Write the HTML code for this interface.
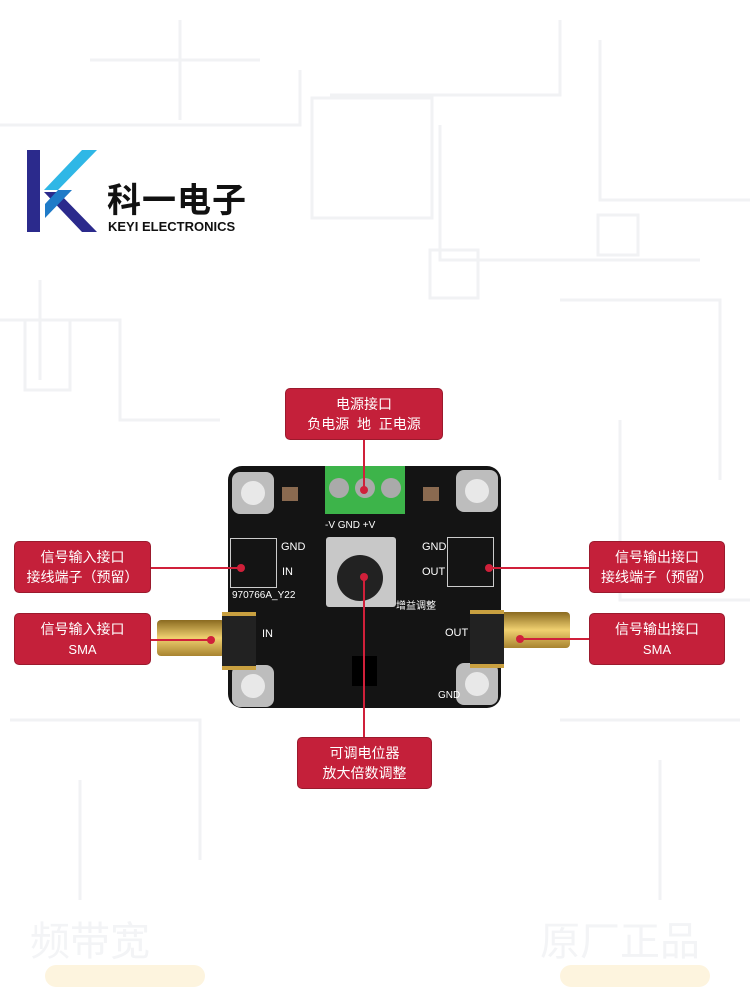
<!DOCTYPE html>
<html><head><meta charset="utf-8"><style>
body{margin:0;width:750px;height:1000px;background:#fff;position:relative;overflow:hidden;font-family:"Liberation Sans","Noto Sans CJK SC",sans-serif}
.a{position:absolute}
.box{position:absolute;background:#c4203a;color:#fff;border-radius:5px;border:1px solid #9b1a2d;text-align:center;font-size:14px;line-height:20px;box-sizing:border-box;padding-top:5px}
.ln{position:absolute;background:#d0203a}
.dot{position:absolute;width:8px;height:8px;border-radius:50%;background:#d0203a}
.wl{position:absolute;color:#fff;font-size:10px;font-family:"Liberation Sans","Noto Sans CJK SC",sans-serif}
.hole{position:absolute;width:42px;height:42px;border-radius:8px;background:#bdbdbd}
.hole:after{content:"";position:absolute;left:9px;top:9px;width:24px;height:24px;border-radius:50%;background:#e8e8e8}
</style></head><body>
<svg class="a" style="left:0;top:0" width="750" height="1000">
<g stroke="#f1f2f4" stroke-width="3" fill="none">
<path d="M0 125H300V70M330 95H560V20M440 125V260H700M600 40V200H750M0 320H120V420H220M40 280V380M560 300H720V480M620 420V600H750M10 720H200V860M560 720H740M80 780V900M660 760V900M180 20V120M90 60H260"/>
<rect x="312" y="98" width="120" height="120"/><rect x="25" y="320" width="45" height="70"/><rect x="430" y="250" width="48" height="48"/><rect x="598" y="215" width="40" height="40"/>
</g>
<text x="30" y="955" font-size="40" fill="#f3f4f6" font-family="Noto Sans CJK SC">频带宽</text>
<text x="540" y="955" font-size="40" fill="#f3f4f6" font-family="Noto Sans CJK SC">原厂正品</text>
<rect x="45" y="965" width="160" height="22" rx="11" fill="#fdf4de"/>
<rect x="560" y="965" width="150" height="22" rx="11" fill="#fdf4de"/>
<polygon points="27,150 40,150 40,232 27,232" fill="#2b2a8c"/>
<polygon points="44,190 82,150 97,150 58,190" fill="#2fb7e6"/>
<polygon points="44,192 58,192 97,232 82,232" fill="#2b2a8c"/>
<polygon points="58,190 72,190 45,218 45,204" fill="#1f7bc8"/>
</svg>
<div class="a" style="left:107px;top:178px;font-size:34px;font-weight:bold;color:#111;font-family:'Noto Sans CJK SC',sans-serif;letter-spacing:1px;line-height:40px">科一电子</div>
<div class="a" style="left:108px;top:219px;font-size:13px;font-weight:bold;color:#111">KEYI ELECTRONICS</div>

<div class="a" style="left:157px;top:620px;width:68px;height:36px;background:linear-gradient(#8a6a20,#f0d070,#a88430);border-radius:4px"></div>
<div class="a" style="left:500px;top:612px;width:70px;height:36px;background:linear-gradient(#8a6a20,#f0d070,#a88430);border-radius:4px"></div>
<div class="a" style="left:228px;top:466px;width:273px;height:242px;background:#141414;border-radius:14px"></div>
<div class="hole" style="left:232px;top:472px"></div><div class="hole" style="left:456px;top:470px"></div>
<div class="hole" style="left:232px;top:665px"></div><div class="hole" style="left:456px;top:663px"></div>
<div class="a" style="left:325px;top:466px;width:80px;height:48px;background:#3db44a"></div>
<div class="a" style="left:329px;top:478px;width:20px;height:20px;border-radius:50%;background:#aaa"></div>
<div class="a" style="left:355px;top:478px;width:20px;height:20px;border-radius:50%;background:#aaa"></div>
<div class="a" style="left:381px;top:478px;width:20px;height:20px;border-radius:50%;background:#aaa"></div>
<div class="a" style="left:282px;top:487px;width:16px;height:14px;background:#8a6a50"></div>
<div class="a" style="left:423px;top:487px;width:16px;height:14px;background:#8a6a50"></div>
<div class="a" style="left:326px;top:537px;width:70px;height:70px;background:#c8c8c8;border-radius:3px"></div>
<div class="a" style="left:337px;top:555px;width:46px;height:46px;border-radius:50%;background:#222"></div>
<div class="a" style="left:230px;top:538px;width:45px;height:48px;border:1px solid #ccc"></div>
<div class="a" style="left:447px;top:537px;width:45px;height:48px;border:1px solid #ccc"></div>
<div class="a" style="left:222px;top:612px;width:34px;height:50px;background:#222;border-top:4px solid #c9a040;border-bottom:4px solid #c9a040"></div>
<div class="a" style="left:470px;top:610px;width:34px;height:50px;background:#222;border-top:4px solid #c9a040;border-bottom:4px solid #c9a040"></div>
<div class="a" style="left:352px;top:656px;width:25px;height:30px;background:#000"></div>
<div class="wl" style="left:281px;top:541px;font-size:11px">GND</div>
<div class="wl" style="left:282px;top:566px;font-size:11px">IN</div>
<div class="wl" style="left:422px;top:541px;font-size:11px">GND</div>
<div class="wl" style="left:422px;top:566px;font-size:11px">OUT</div>
<div class="wl" style="left:232px;top:590px">970766A_Y22</div>
<div class="wl" style="left:325px;top:520px">-V GND +V</div>
<div class="wl" style="left:396px;top:597px">增益调整</div>
<div class="wl" style="left:262px;top:628px;font-size:11px">IN</div>
<div class="wl" style="left:445px;top:627px;font-size:11px">OUT</div>
<div class="wl" style="left:438px;top:690px">GND</div>

<div class="ln" style="left:363px;top:440px;width:2px;height:50px"></div><div class="dot" style="left:360px;top:486px"></div>
<div class="ln" style="left:151px;top:567px;width:90px;height:2px"></div><div class="dot" style="left:237px;top:564px"></div>
<div class="ln" style="left:151px;top:639px;width:60px;height:2px"></div><div class="dot" style="left:207px;top:636px"></div>
<div class="ln" style="left:490px;top:567px;width:99px;height:2px"></div><div class="dot" style="left:485px;top:564px"></div>
<div class="ln" style="left:520px;top:638px;width:69px;height:2px"></div><div class="dot" style="left:516px;top:635px"></div>
<div class="ln" style="left:363px;top:577px;width:2px;height:160px"></div><div class="dot" style="left:360px;top:573px"></div>

<div class="box" style="left:285px;top:388px;width:158px;height:52px">电源接口<br>负电源&nbsp; 地&nbsp; 正电源</div>
<div class="box" style="left:14px;top:541px;width:137px;height:52px">信号输入接口<br>接线端子（预留）</div>
<div class="box" style="left:14px;top:613px;width:137px;height:52px">信号输入接口<br><span style="font-size:13px">SMA</span></div>
<div class="box" style="left:589px;top:541px;width:136px;height:52px">信号输出接口<br>接线端子（预留）</div>
<div class="box" style="left:589px;top:613px;width:136px;height:52px">信号输出接口<br><span style="font-size:13px">SMA</span></div>
<div class="box" style="left:297px;top:737px;width:135px;height:52px">可调电位器<br>放大倍数调整</div>
</body></html>
